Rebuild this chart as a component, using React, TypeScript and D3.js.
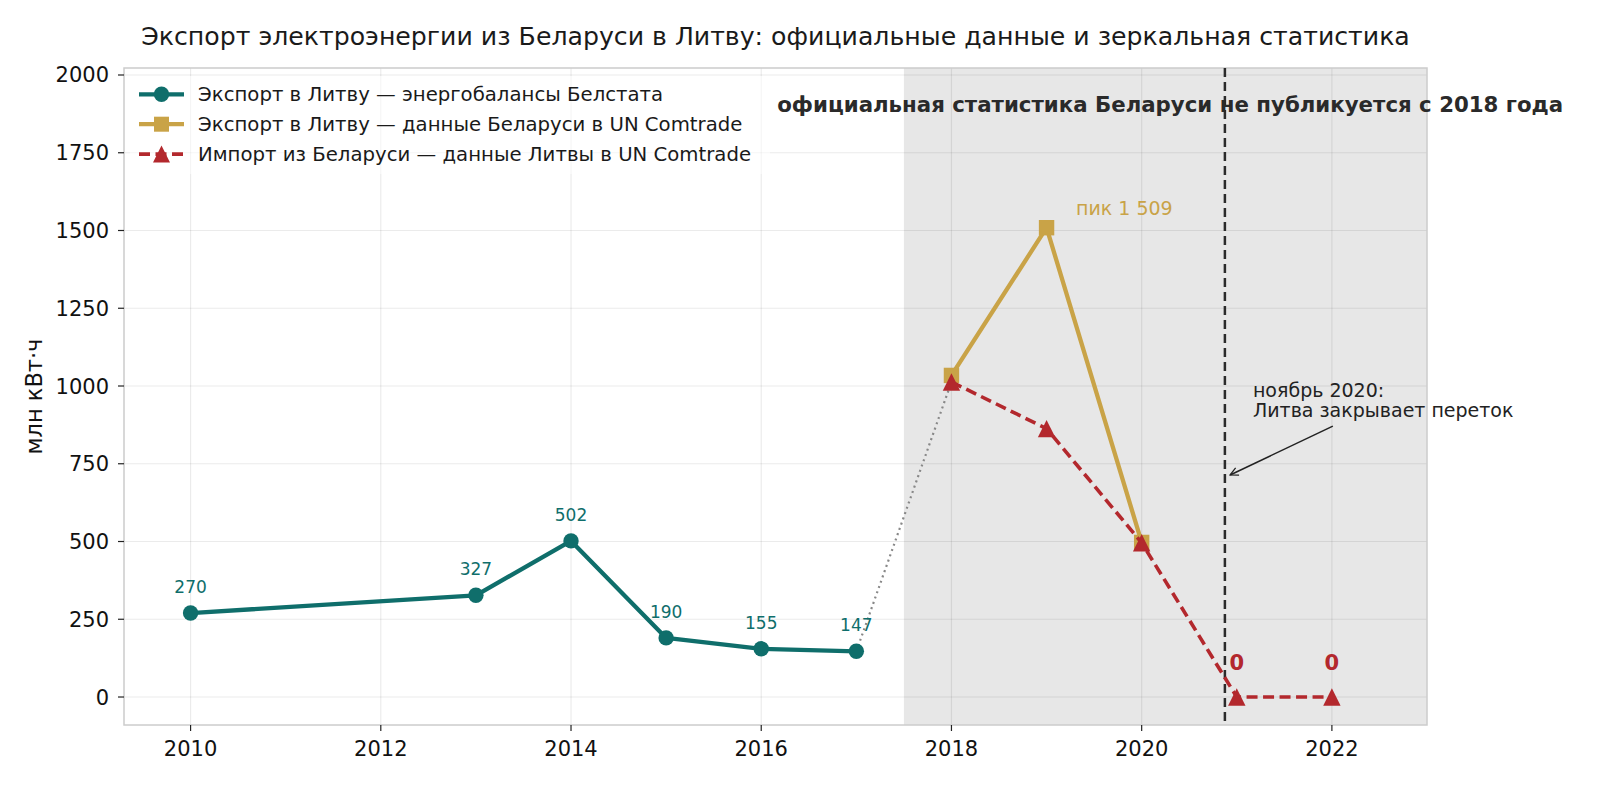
import * as d3 from 'd3';

// Belstat energy balances: export to Lithuania, mln kWh
const belstatYears = [2010, 2013, 2014, 2015, 2016, 2017];
const belstatValues = [270, 327, 502, 190, 155, 147];

// Belarus data in UN Comtrade
const byComtradeYears = [2018, 2019, 2020];
const byComtradeValues = [1034, 1509, 497];

// Lithuania data in UN Comtrade (import from Belarus)
const ltComtradeYears = [2018, 2019, 2020, 2021, 2022];
const ltComtradeValues = [1013, 863, 496, 0, 0];

const xTicks = [2010, 2012, 2014, 2016, 2018, 2020, 2022];
const yTicks = [0, 250, 500, 750, 1000, 1250, 1500, 1750, 2000];

const legendLabels = [
  'Экспорт в Литву — энергобалансы Белстата',
  'Экспорт в Литву — данные Беларуси в UN Comtrade',
  'Импорт из Беларуси — данные Литвы в UN Comtrade',
];

const TEAL = '#0f6e6b';
const GOLD = '#c9a347';
const RED = '#b3282d';
const FONT = '"DejaVu Sans", Verdana, sans-serif';

const width = 1600;
const height = 785;
const margin = { top: 68, right: 173, bottom: 60, left: 124 };

const x = d3.scaleLinear().domain([2009.3, 2023.0]).range([margin.left, width - margin.right]);
const y = d3.scaleLinear().domain([-90, 2022.5]).range([height - margin.bottom, margin.top]);

type Pt = [number, number];
const zip = (xs: number[], ys: number[]): Pt[] => xs.map((v, i) => [v, ys[i]]);

const line = d3
  .line<Pt>()
  .x((d) => x(d[0]))
  .y((d) => y(d[1]));

const tri = (s: number) => `M0,${-s}L${-s},${s}L${s},${s}Z`;

function App() {
  const belstat = zip(belstatYears, belstatValues);
  const byData = zip(byComtradeYears, byComtradeValues);
  const ltData = zip(ltComtradeYears, ltComtradeValues);
  const bridge: Pt[] = [belstat[belstat.length - 1], ltData[0]];

  const x0 = margin.left;
  const x1 = width - margin.right;
  const y0 = margin.top;
  const y1 = height - margin.bottom;

  return (
    <svg
      width={width}
      height={height}
      style={{ position: 'absolute', left: 0, top: 0, background: '#fff' }}
      fontFamily={FONT}
    >
      <defs>
        <clipPath id="plot">
          <rect x={x0} y={y0} width={x1 - x0} height={y1 - y0} />
        </clipPath>
        <marker id="arrow" viewBox="0 0 10 10" refX="9" refY="5" markerWidth="10" markerHeight="10" orient="auto-start-reverse" markerUnits="userSpaceOnUse">
          <path d="M1,1L9,5L1,9" fill="none" stroke="#222" strokeWidth={1.3} />
        </marker>
      </defs>

      {/* title */}
      <text x={(x0 + x1) / 2} y={45} textAnchor="middle" fontSize={25.2} fill="#1a1a1a">
        Экспорт электроэнергии из Беларуси в Литву: официальные данные и зеркальная статистика
      </text>

      {/* shaded period without official statistics */}
      <rect x={x(2017.5)} y={y0} width={x1 - x(2017.5)} height={y1 - y0} fill="#e7e7e7" />

      {/* grid */}
      <g stroke="#000" strokeOpacity={0.08} strokeWidth={1.2}>
        {xTicks.map((t) => (
          <line key={`gx${t}`} x1={x(t)} x2={x(t)} y1={y0} y2={y1} />
        ))}
        {yTicks.map((t) => (
          <line key={`gy${t}`} x1={x0} x2={x1} y1={y(t)} y2={y(t)} />
        ))}
      </g>

      {/* spines */}
      <rect x={x0} y={y0} width={x1 - x0} height={y1 - y0} fill="none" stroke="#cccccc" strokeWidth={1.5} />

      {/* ticks */}
      <g fontSize={21} fill="#111">
        {xTicks.map((t) => (
          <g key={`tx${t}`}>
            <line x1={x(t)} x2={x(t)} y1={y1} y2={y1 + 6} stroke="#222" strokeWidth={1.2} />
            <text x={x(t)} y={y1 + 31} textAnchor="middle">{t}</text>
          </g>
        ))}
        {yTicks.map((t) => (
          <g key={`ty${t}`}>
            <line x1={x0 - 6} x2={x0} y1={y(t)} y2={y(t)} stroke="#222" strokeWidth={1.2} />
            <text x={x0 - 15} y={y(t) + 7.5} textAnchor="end">{t}</text>
          </g>
        ))}
      </g>

      <text
        transform={`translate(42,${(y0 + y1) / 2}) rotate(-90)`}
        textAnchor="middle"
        fontSize={22.5}
        fill="#111"
      >
        млн кВт·ч
      </text>

      {/* November 2020 line */}
      <line x1={x(2020.875)} x2={x(2020.875)} y1={y0} y2={y1} stroke="#2b2b2b" strokeWidth={2.5} strokeDasharray="9,5" />

      <g clipPath="url(#plot)">
        {/* dotted bridge */}
        <path d={line(bridge) ?? ''} fill="none" stroke="#888" strokeWidth={2.2} strokeDasharray="2,3.6" />

        {/* Belstat */}
        <path d={line(belstat) ?? ''} fill="none" stroke={TEAL} strokeWidth={4.3} strokeLinejoin="round" />
        {belstat.map((d) => (
          <circle key={`b${d[0]}`} cx={x(d[0])} cy={y(d[1])} r={7.7} fill={TEAL} />
        ))}

        {/* Belarus in Comtrade */}
        <path d={line(byData) ?? ''} fill="none" stroke={GOLD} strokeWidth={4.3} strokeLinejoin="round" />
        {byData.map((d) => (
          <rect key={`g${d[0]}`} x={x(d[0]) - 7.7} y={y(d[1]) - 7.7} width={15.4} height={15.4} fill={GOLD} />
        ))}

        {/* Lithuania in Comtrade */}
        <path d={line(ltData) ?? ''} fill="none" stroke={RED} strokeWidth={3.6} strokeDasharray="11,5.5" />
        {ltData.map((d) => (
          <path key={`r${d[0]}`} d={tri(8.7)} transform={`translate(${x(d[0])},${y(d[1])})`} fill={RED} />
        ))}
      </g>

      {/* value labels */}
      <g fontSize={17} fill={TEAL} textAnchor="middle">
        {belstat.map((d) => (
          <text key={`lb${d[0]}`} x={x(d[0])} y={y(d[1]) - 20}>{d[1]}</text>
        ))}
      </g>
      <g fontSize={21} fontWeight="bold" fill={RED} textAnchor="middle">
        {ltData
          .filter((d) => d[1] === 0)
          .map((d) => (
            <text key={`lr${d[0]}`} x={x(d[0])} y={y(d[1]) - 27}>{d[1]}</text>
          ))}
      </g>

      <text x={x(2019.31)} y={y(1550)} fontSize={19} fill={GOLD}>
        пик 1 509
      </text>

      {/* annotation */}
      <path
        d={`M${x(2022.01)},${y(871)}L${x(2020.93)},${y(714)}`}
        stroke="#222"
        strokeWidth={1.5}
        fill="none"
        markerEnd="url(#arrow)"
      />
      <text x={x(2021.17)} y={y(965)} fontSize={19} fill="#222">
        <tspan x={x(2021.17)}>ноябрь 2020:</tspan>
        <tspan x={x(2021.17)} dy={20}>Литва закрывает переток</tspan>
      </text>

      <text x={x(2020.3)} y={y(1882)} fontSize={21.3} fontWeight="bold" fill="#2a2a2a" textAnchor="middle">
        официальная статистика Беларуси не публикуется с 2018 года
      </text>

      {/* legend */}
      <g>
        <rect x={130} y={76} width={640} height={98} fill="#fff" fillOpacity={0.5} />
        {legendLabels.map((label, i) => {
          const ly = 94.3 + i * 29.9;
          const color = [TEAL, GOLD, RED][i];
          return (
            <g key={label}>
              <line
                x1={139}
                x2={184}
                y1={ly}
                y2={ly}
                stroke={color}
                strokeWidth={i === 2 ? 3.6 : 4.3}
                strokeDasharray={i === 2 ? '11,5.5' : undefined}
              />
              {i === 0 && <circle cx={161.5} cy={ly} r={7.7} fill={color} />}
              {i === 1 && <rect x={154} y={ly - 7.5} width={15} height={15} fill={color} />}
              {i === 2 && <path d={tri(8.5)} transform={`translate(161.5,${ly})`} fill={color} />}
              <text x={198} y={ly} dy="0.35em" fontSize={19.7} fill="#1a1a1a">
                {label}
              </text>
            </g>
          );
        })}
      </g>
    </svg>
  );
}

export default App;
